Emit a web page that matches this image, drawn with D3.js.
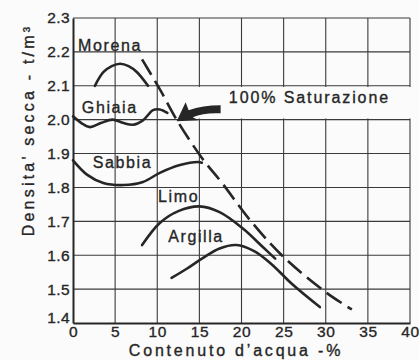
<!DOCTYPE html>
<html><head><meta charset="utf-8">
<script src="https://cdn.jsdelivr.net/npm/d3@7"></script>
<style>
html,body{margin:0;padding:0;background:#fbfbfb;}
svg{display:block;font-family:"Liberation Sans",Arial,sans-serif;}
svg text{stroke:#262626;stroke-width:0.35px;}
</style></head>
<body>
<script>
// ---- data ----
const xTicks = [0,5,10,15,20,25,30,35,40];
const yTicks = [1.4,1.5,1.6,1.7,1.8,1.9,2.0,2.1,2.2,2.3];
const yTickLabels = ["1.4","1.5","1.6","1.7","1.8","1.9","2.0","2.1","2.2","2.3"];
const morena = [[2.6,2.10],[3.6,2.14],[4.6,2.158],[5.6,2.165],[6.6,2.158],[7.6,2.14],[8.9,2.10]];
const ghiaia = [[0,2.01],[1,1.99],[2,1.978],[3.3,1.99],[4.7,2.0],[6,1.99],[7.1,1.985],[8.3,1.998],[9.5,2.028],[10.3,2.03],[11.2,2.02]];
const sabbia = [[0,1.88],[1.7,1.837],[3.6,1.813],[6,1.807],[8.3,1.816],[10.3,1.843],[12.7,1.866],[14.8,1.875],[15.3,1.873]];
const limo = [[8.2,1.63],[10.3,1.695],[12.5,1.73],[15,1.744],[17.4,1.727],[20.2,1.678],[22.5,1.625],[24,1.59]];
const argilla = [[11.7,1.533],[13.5,1.56],[15.3,1.59],[17.4,1.62],[19.4,1.63],[21.5,1.612],[23.5,1.575],[26,1.515],[29.3,1.447]];
const saturazione = [[8.2,2.178],[10.3,2.09],[12.3,2.0],[15.3,1.887],[17.7,1.813],[21,1.704],[24.9,1.597],[30.1,1.489],[33.1,1.44]];
const curveLabels = [
  {text:"Morena", x:0.6, y:2.203},
  {text:"Ghiaia", x:1.05, y:2.02},
  {text:"Sabbia", x:2.35, y:1.858},
  {text:"Limo", x:10.1, y:1.757},
  {text:"Argilla", x:11.3, y:1.639}
];
const satLabel = "100% Saturazione";
const xTitle = "Contenuto  d\u2019acqua -%";
const yTitle = "Densita' secca - t/m\u00b3";

// ---- chart ----
const W = 419, H = 360;
const svg = d3.select("body").append("svg").attr("width",W).attr("height",H);
const x = d3.scaleLinear().domain([0,40]).range([73,410]);
const y = d3.scaleLinear().domain([1.4,2.3]).range([323,18]);
const ink = "#262626";

// grid
const grid = svg.append("g").attr("stroke","#3a3a3a").attr("stroke-width",1.1);
grid.selectAll(".vx").data(xTicks.slice(1)).join("line")
  .attr("x1",d=>x(d)).attr("x2",d=>x(d)).attr("y1",y(2.3)).attr("y2",y(1.4));
grid.selectAll(".hy").data(yTicks.slice(1)).join("line")
  .attr("x1",x(0)).attr("x2",x(40)).attr("y1",d=>y(d)).attr("y2",d=>y(d));

// white box behind saturation label
svg.append("rect").attr("x",x(14.7)).attr("y",y(2.1)+1.2)
  .attr("width",x(40)-x(14.7)+2).attr("height",y(2.0)-y(2.1)-2.4).attr("fill","#fbfbfb");

// axes
const xAxis = d3.axisBottom(x).tickValues(xTicks).tickSize(0).tickPadding(3);
const gx = svg.append("g").attr("transform",`translate(0,${y(1.4)})`).call(xAxis);
gx.select(".domain").attr("stroke",ink).attr("stroke-width",2);
gx.selectAll("text").attr("font-size",15.5).attr("fill",ink).attr("font-family","Liberation Sans, Arial, sans-serif").attr("letter-spacing",0.6);
const yAxis = d3.axisLeft(y).tickValues(yTicks).tickFormat((d,i)=>yTickLabels[i]).tickSize(0).tickPadding(3);
const gy = svg.append("g").attr("transform",`translate(${x(0)},0)`).call(yAxis);
gy.select(".domain").attr("stroke",ink).attr("stroke-width",2);
gy.selectAll("text").attr("font-size",15.5).attr("fill",ink).attr("font-family","Liberation Sans, Arial, sans-serif").attr("letter-spacing",0.4)
  .attr("dy",(d,i)=> i===0 ? "-0.05em" : "0.32em");

// titles
svg.append("text").attr("x",236).attr("y",356).attr("text-anchor","middle")
  .attr("font-size",16).attr("letter-spacing",2.8).attr("fill",ink).text(xTitle);
svg.append("text").attr("transform",`translate(34,130) rotate(-90)`)
  .attr("text-anchor","middle").attr("font-size",16).attr("letter-spacing",3.2).attr("fill",ink).text(yTitle);

// curves
const line = d3.line().x(d=>x(d[0])).y(d=>y(d[1])).curve(d3.curveCatmullRom.alpha(0.5));
[morena,ghiaia,sabbia,limo,argilla].forEach(s=>{
  svg.append("path").attr("d",line(s)).attr("fill","none").attr("stroke",ink)
    .attr("stroke-width",2.6).attr("stroke-linecap","round");
});
svg.append("path").attr("d",line(saturazione)).attr("fill","none").attr("stroke",ink)
  .attr("stroke-width",2.6).attr("stroke-dasharray","18,7");

// curve labels
svg.selectAll(".clab").data(curveLabels).join("text")
  .attr("x",d=>x(d.x)).attr("y",d=>y(d.y)).attr("font-size",16).attr("letter-spacing",1.6)
  .attr("fill",ink).text(d=>d.text);

// arrow
const [tx,ty] = [x(12.3), y(1.995)];
svg.append("path").attr("fill",ink).attr("d",
  `M${tx},${ty} L${tx+9},${ty-19} L${tx+12},${ty-11} Q${tx+26},${ty-16} ${tx+44},${ty-16}
   L${tx+44},${ty-8} Q${tx+28},${ty-9} ${tx+16},${ty-4} L${tx+22},${ty-1} Z`);
svg.append("text").attr("x",x(18.5)).attr("y",y(2.065)+5).attr("font-size",16)
  .attr("letter-spacing",1.9).attr("fill",ink).text(satLabel);
</script>
</body></html>
